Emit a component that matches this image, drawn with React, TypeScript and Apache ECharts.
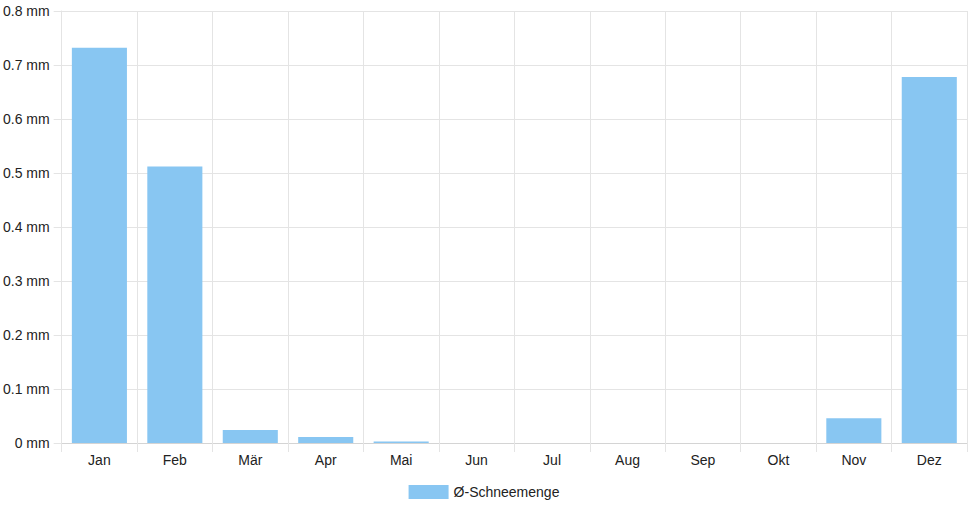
import { useEffect, useRef } from "react";
import * as echarts from "echarts";

const months = ["Jan", "Feb", "Mär", "Apr", "Mai", "Jun", "Jul", "Aug", "Sep", "Okt", "Nov", "Dez"];
const snowAmount = [0.732, 0.512, 0.024, 0.011, 0.003, 0, 0, 0, 0, 0, 0.046, 0.678];
const seriesName = "Ø-Schneemenge";

const gridColor = "#e4e4e4";
const textColor = "#222";
const fontFamily = "'Liberation Sans', Arial, sans-serif";

export default function App() {
  const chartRef = useRef<HTMLDivElement>(null);

  useEffect(() => {
    document.body.style.margin = "0";
    if (!chartRef.current) {
      return undefined;
    }

    const chart = echarts.init(chartRef.current, undefined, { renderer: "svg" });

    chart.setOption({
      animation: false,
      textStyle: { fontFamily },
      grid: { top: 11, right: 1, bottom: 65, left: 61 },
      legend: {
        bottom: 4,
        left: "center",
        itemWidth: 40,
        itemHeight: 14,
        itemGap: 10,
        textStyle: { color: textColor, fontSize: 14, fontFamily },
        data: [{ name: seriesName, icon: "rect" }],
      },
      xAxis: {
        type: "category",
        data: months,
        boundaryGap: true,
        axisLine: { lineStyle: { color: "#d4d4d4" } },
        axisTick: { show: true, interval: 0, length: 9, lineStyle: { color: gridColor } },
        axisLabel: { color: textColor, fontSize: 14, margin: 10, interval: 0 },
        splitLine: { show: true, interval: 0, lineStyle: { color: gridColor } },
      },
      yAxis: {
        type: "value",
        min: 0,
        max: 0.8,
        interval: 0.1,
        axisLine: { show: true, lineStyle: { color: gridColor } },
        axisTick: { show: true, length: 8, lineStyle: { color: gridColor } },
        axisLabel: {
          color: textColor,
          fontSize: 14,
          margin: 12,
          formatter: (value: number) => `${Number(value.toFixed(1))} mm`,
        },
        splitLine: { lineStyle: { color: gridColor } },
      },
      series: [
        {
          name: seriesName,
          type: "bar",
          data: snowAmount,
          barCategoryGap: "27%",
          itemStyle: { color: "#88c6f2", borderWidth: 0 },
        },
      ],
    });

    return () => {
      chart.dispose();
    };
  }, []);

  return <div ref={chartRef} style={{ width: 968, height: 508 }} aria-label="Bar chart" />;
}
